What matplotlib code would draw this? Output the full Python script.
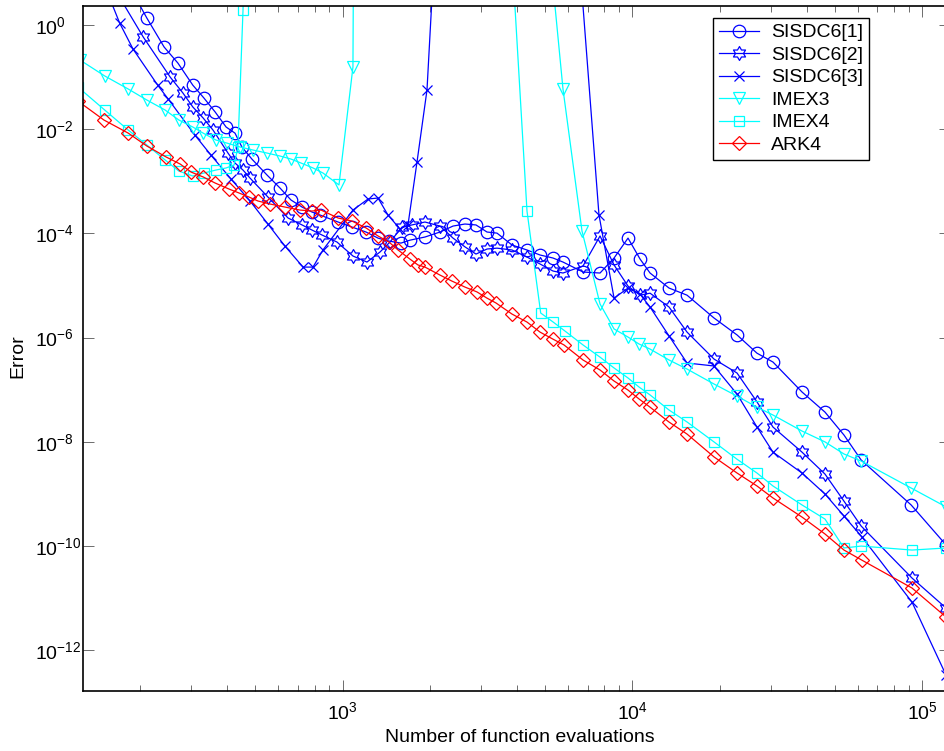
import matplotlib
matplotlib.use('Agg')
import matplotlib.pyplot as plt
from matplotlib.path import Path
import numpy as np

plt.rcParams['font.family'] = ['Liberation Sans', 'DejaVu Sans']

# ---- data (number of function evaluations, error) ----
sisdc1_n = [185, 211, 242, 270, 304, 332, 363, 396, 425, 449, 486, 548, 608, 663,
            724, 783, 835, 964, 1077, 1204, 1324, 1445, 1589, 1707, 1923, 2167,
            2403, 2642, 2884, 3148, 3408, 3839, 4325, 4797, 5318, 5757, 6749,
            7727, 8638, 9652, 10620, 11497, 13370, 15425, 19110, 22950, 26890,
            30530, 38450, 46150, 53680, 61520, 91500, 120760]
sisdc1_err = [5.1, 1.36, 0.378, 0.186, 7.0e-2, 3.97e-2, 2.14e-2, 1.10e-2, 8.4e-3,
              4.55e-3, 2.67e-3, 1.32e-3, 7.4e-4, 4.37e-4, 3.2e-4, 2.57e-4, 2.25e-4,
              1.65e-4, 1.32e-4, 1.06e-4, 8.1e-5, 7.1e-5, 6.5e-5, 7.4e-5, 8.5e-5,
              1.06e-4, 1.38e-4, 1.51e-4, 1.45e-4, 1.06e-4, 1.01e-4, 5.97e-5,
              4.79e-5, 3.84e-5, 3.36e-5, 2.81e-5, 1.81e-5, 1.73e-5, 3.36e-5,
              8.1e-5, 3.21e-5, 1.73e-5, 8.9e-6, 6.5e-6, 2.37e-6, 1.12e-6, 5.0e-7,
              3.38e-7, 9.0e-8, 3.7e-8, 1.34e-8, 4.45e-9, 6.1e-10, 1.04e-10]

sisdc2_n = [168, 205, 254, 281, 304, 330, 357, 402, 425, 453, 479, 552, 648, 724,
            783, 848, 956, 1085, 1213, 1345, 1456, 1602, 1734, 1923, 2167, 2403,
            2642, 2884, 3148, 3408, 3839, 4325, 4797, 5318, 5757, 6749, 7727,
            8638, 9652, 10620, 11497, 13370, 15425, 19110, 22950, 26890, 30530,
            38450, 46150, 53680, 61520, 92150, 120760]
sisdc2_err = [3.77, 0.589, 0.100, 4.95e-2, 2.67e-2, 1.64e-2, 9.6e-3, 3.48e-3,
              2.24e-3, 1.64e-3, 1.15e-3, 4.99e-4, 1.97e-4, 1.45e-4, 1.16e-4,
              9.3e-5, 6.8e-5, 3.67e-5, 2.81e-5, 4.38e-5, 6.8e-5, 1.32e-4, 1.45e-4,
              1.65e-4, 1.38e-4, 8.1e-5, 5.5e-5, 4.0e-5, 5.0e-5, 5.2e-5, 4.79e-5,
              3.51e-5, 2.58e-5, 1.89e-5, 1.73e-5, 2.36e-5, 8.9e-5, 2.47e-5, 9.7e-6,
              6.5e-6, 7.1e-6, 3.85e-6, 1.27e-6, 3.86e-7, 2.08e-7, 5.8e-8, 1.91e-8,
              6.3e-9, 2.39e-9, 7.2e-10, 2.40e-10, 2.41e-11, 6.4e-12]

sisdc3_n = [153, 170, 189, 230, 250, 309, 351, 412, 479, 552, 632, 730, 790, 855,
            1085, 1223, 1324, 1433, 1577, 1680, 1805, 1954, 2167, 3000, 5000,
            5757, 7663, 8638, 9652, 10620, 11497, 13370, 15425, 19110, 22950,
            26890, 30530, 38450, 46150, 53680, 61930, 92150, 120760]
sisdc3_err = [4.7, 1.09, 0.346, 7.0e-2, 3.79e-2, 7.7e-3, 3.19e-3, 1.10e-3, 4.18e-4,
              1.51e-4, 5.7e-5, 2.25e-5, 2.25e-5, 4.79e-5, 2.8e-4, 4.56e-4, 4.77e-4,
              2.25e-4, 1.21e-4, 1.45e-4, 2.34e-3, 5.65e-2, 2290, 1e6, 1e6, 2.4e5,
              2.25e-4, 5.7e-6, 8.9e-6, 6.8e-6, 3.85e-6, 1.07e-6, 3.24e-7, 2.84e-7,
              8.2e-8, 1.91e-8, 6.3e-9, 2.5e-9, 9.9e-10, 3.73e-10, 1.48e-10,
              8.3e-12, 3.3e-13]

imex3_n = [124, 151, 182, 211, 244, 272, 304, 330, 365, 399, 442, 490, 548, 608,
           663, 718, 790, 855, 971, 1085, 1100, 2000, 3000, 5192, 5757, 6695,
           7727, 8638, 9652, 10535, 11497, 13370, 15425, 19110, 22950, 26890,
           30530, 38450, 46150, 53680, 61520, 91500, 120760]
imex3_err = [0.213, 0.105, 5.9e-2, 3.63e-2, 2.33e-2, 1.50e-2, 1.10e-2, 8.4e-3,
             6.2e-3, 5.4e-3, 4.55e-3, 3.98e-3, 3.48e-3, 3.05e-3, 2.67e-3, 2.24e-3,
             1.80e-3, 1.44e-3, 8.5e-4, 0.156, 1e6, 1e8, 1e6, 23, 5.9e-2, 1.11e-4,
             4.4e-6, 1.46e-6, 1.02e-6, 7.5e-7, 6.0e-7, 3.7e-7, 2.48e-7, 1.28e-7,
             7.5e-8, 4.6e-8, 3.25e-8, 1.60e-8, 9.9e-9, 5.8e-9, 4.25e-9, 1.29e-9,
             5.6e-10]

imex4_n = [122, 151, 182, 211, 244, 272, 304, 332, 365, 396, 422, 435, 453, 480,
           1000, 2000, 3776, 4325, 4823, 5318, 5850, 6749, 7727, 8638, 9652,
           10535, 11497, 13370, 15425, 19110, 22950, 26890, 30530, 38450, 46150,
           53680, 61520, 92150, 120760]
imex4_err = [6.45e-2, 2.33e-2, 9.6e-3, 4.97e-3, 2.56e-3, 1.57e-3, 1.26e-3, 1.44e-3,
             1.64e-3, 1.80e-3, 2.05e-3, 4.5e-3, 1.94, 1e6, 1e8, 1e6, 100, 2.68e-4,
             2.95e-6, 1.99e-6, 1.33e-6, 7.2e-7, 4.2e-7, 2.6e-7, 1.67e-7, 1.12e-7,
             7.9e-8, 4.05e-8, 2.39e-8, 9.9e-9, 4.6e-9, 2.5e-9, 1.41e-9, 6.1e-10,
             3.27e-10, 9.1e-11, 9.9e-11, 8.3e-11, 9.1e-11]

ark4_n = [122, 150, 182, 211, 246, 275, 300, 330, 363, 405, 439, 475, 510, 561,
          632, 712, 783, 842, 964, 1077, 1204, 1324, 1445, 1552, 1707, 1819, 1923,
          2167, 2383, 2642, 2907, 3148, 3381, 3839, 4325, 4797, 5318, 5803, 6749,
          7727, 8638, 9652, 10535, 11497, 13370, 15425, 19110, 22950, 26890,
          30530, 38450, 46150, 53680, 61930, 92150, 120760]
ark4_err = [3.47e-2, 1.50e-2, 8.4e-3, 4.75e-3, 2.92e-3, 2.14e-3, 1.50e-3, 1.21e-3,
            9.25e-4, 7.1e-4, 5.95e-4, 4.98e-4, 4.18e-4, 3.66e-4, 3.2e-4, 2.8e-4,
            2.68e-4, 2.8e-4, 1.97e-4, 1.72e-4, 1.27e-4, 8.9e-5, 6.8e-5, 4.8e-5,
            3.2e-5, 2.47e-5, 2.25e-5, 1.58e-5, 1.21e-5, 9.3e-6, 7.5e-6, 5.7e-6,
            4.6e-6, 2.82e-6, 1.98e-6, 1.27e-6, 9.3e-7, 7.2e-7, 3.7e-7, 2.38e-7,
            1.46e-7, 9.8e-8, 6.6e-8, 4.6e-8, 2.38e-8, 1.40e-8, 5.1e-9, 2.5e-9,
            1.41e-9, 8.3e-10, 3.57e-10, 1.69e-10, 8.3e-11, 5.3e-11, 1.55e-11, 4.3e-12]

# six-pointed star like MATLAB's hexagram (closed outline)
ang = np.deg2rad(90 + 30 * np.arange(12))
rad = np.where(np.arange(12) % 2 == 0, 1.0, 0.577)
verts = np.column_stack([rad * np.cos(ang), rad * np.sin(ang)])
verts = np.vstack([verts, verts[:1]])
codes = [Path.MOVETO] + [Path.LINETO] * 11 + [Path.CLOSEPOLY]
hexagram = Path(verts, codes)

fig = plt.figure(figsize=(9.45, 7.51), dpi=100)
ax = fig.add_axes([83.3 / 945, 1 - 691 / 751, (950 - 83.3) / 945, 685 / 751])

blue, cyan, red = '#0000ff', '#00ffff', '#ff0000'
lw = 0.9
ax.loglog(sisdc1_n, sisdc1_err, color=blue, marker='o', ms=9, mfc='none',
          lw=lw, mew=0.9, label='SISDC6[1]')
ax.loglog(sisdc2_n, sisdc2_err, color=blue, marker=hexagram, ms=10, mfc='none',
          lw=lw, mew=0.9, label='SISDC6[2]')
ax.loglog(sisdc3_n, sisdc3_err, color=blue, marker='x', ms=6.5, mfc='none',
          lw=lw, mew=0.9, label='SISDC6[3]')
ax.loglog(imex3_n, imex3_err, color=cyan, marker='v', ms=9, mfc='none',
          lw=lw, mew=0.9, label='IMEX3')
ax.loglog(imex4_n, imex4_err, color=cyan, marker='s', ms=7, mfc='none',
          lw=lw, mew=0.9, label='IMEX4')
ax.loglog(ark4_n, ark4_err, color=red, marker='D', ms=7, mfc='none',
          lw=lw, mew=0.9, label='ARK4')

ax.set_xlim(10 ** 2.105, 10 ** 5.0956)
ax.set_ylim(10 ** -12.787, 10 ** 0.365)

ax.set_yticks([10.0 ** k for k in range(0, -13, -2)])
ax.yaxis.set_minor_locator(matplotlib.ticker.NullLocator())
ax.xaxis.set_major_locator(matplotlib.ticker.LogLocator(base=10, numticks=10))
ax.xaxis.set_minor_locator(matplotlib.ticker.LogLocator(base=10, subs=np.arange(2, 10), numticks=20))
ax.xaxis.set_minor_formatter(matplotlib.ticker.NullFormatter())

ax.tick_params(which='both', direction='in', top=True, right=True,
               labelsize=14, width=0.6, color='#555555')
ax.tick_params(which='major', length=8)
ax.tick_params(which='minor', length=4)
ax.tick_params(axis='x', pad=7)
# MATLAB left-aligns these labels at a common x
ax.tick_params(axis='y', pad=34.8)
for tick in ax.yaxis.get_major_ticks():
    tick.label1.set_horizontalalignment('left')
for s in ax.spines.values():
    s.set_linewidth(1.2)

fig.text(520 / 945, 1 - 738 / 751, 'Number of function evaluations',
         ha='center', va='center', fontsize=14)
fig.text(18 / 945, 1 - 356 / 751, 'Error', rotation=90,
         ha='center', va='center', fontsize=14)

leg = ax.legend(loc='upper right', bbox_to_anchor=(869 / 945, 1 - 18 / 751),
                bbox_transform=fig.transFigure, borderaxespad=0, fontsize=14,
                fancybox=False, framealpha=1, edgecolor='black',
                handlelength=2.1, handletextpad=0.6, labelspacing=0.25,
                borderpad=0.3)
leg.get_frame().set_linewidth(1.0)

fig.savefig('out.png', dpi=100)
